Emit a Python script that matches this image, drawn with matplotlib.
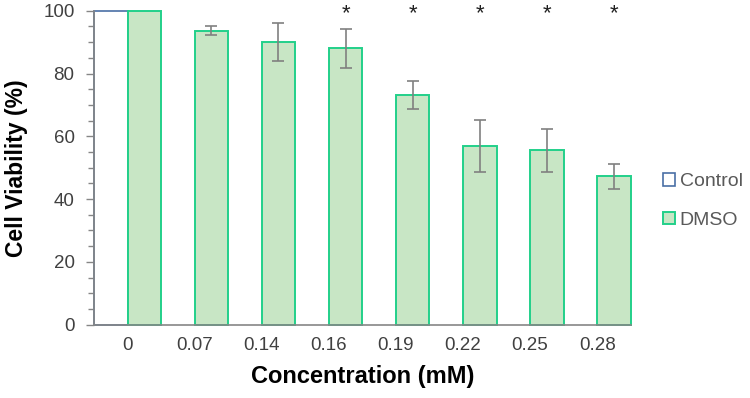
import numpy as np
import matplotlib
matplotlib.use("Agg")
import matplotlib.pyplot as plt
from matplotlib.patches import Patch

plt.rcParams['font.family'] = ['Liberation Sans', 'DejaVu Sans']

conc_labels = ['0', '0.07', '0.14', '0.16', '0.19', '0.22', '0.25', '0.28']
dmso_vals = [100, 93.6, 90.0, 88.0, 73.1, 56.9, 55.5, 47.3]
dmso_err = [0, 1.4, 6.1, 6.2, 4.4, 8.2, 6.9, 4.0]
control_vals = [100]
signif = [False, False, False, True, True, True, True, True]

edge_green = '#22D08A'
fill_green = '#C8E6C5'
blue = '#4A6FA5'
txt_gray = '#404040'
axis_gray = '#868686'

fig = plt.figure(figsize=(7.5, 3.98), dpi=100)
ax = fig.add_axes([0.1253, 0.1842, 0.7157, 0.7889])

x = np.arange(len(conc_labels))
w = 0.5

ax.bar(x[:len(control_vals)], control_vals, width=-w, align='edge',
       facecolor='white', edgecolor=blue, linewidth=1.2, zorder=2, clip_on=False)
ax.bar(x, dmso_vals, width=w, align='edge', facecolor=fill_green,
       edgecolor=edge_green, linewidth=1.4, zorder=2, clip_on=False)
ax.errorbar(x[1:] + w / 2, dmso_vals[1:], yerr=dmso_err[1:], fmt='none',
            ecolor='#808080', elinewidth=1.2, capsize=4, capthick=1.2, zorder=3)

for i, s in enumerate(signif):
    if s:
        ax.text(x[i] + w / 2, 99.0, '*', ha='center', va='center',
                fontsize=16, color='#202020', clip_on=False)

ax.set_xlim(-0.5, len(conc_labels) - 0.5)
ax.set_ylim(0, 100)
ax.set_xticks(x)
ax.set_xticklabels(conc_labels)
ax.set_yticks(np.arange(0, 101, 20))
ax.set_yticks(np.arange(0, 101, 5), minor=True)
ax.tick_params(axis='x', length=0, pad=9, labelsize=13.5, labelcolor=txt_gray)
ax.tick_params(axis='y', which='major', length=6, width=1, color=axis_gray,
               labelsize=13.5, labelcolor=txt_gray, pad=8)
ax.tick_params(axis='y', which='minor', length=4, width=1, color=axis_gray)

for side in ['top', 'right']:
    ax.spines[side].set_visible(False)
for side in ['left', 'bottom']:
    ax.spines[side].set_color(axis_gray)
    ax.spines[side].set_linewidth(1.2)
    ax.spines[side].set_zorder(4)

ax.set_xlabel('Concentration (mM)', fontsize=17, fontweight='bold')
ax.set_ylabel('Cell Viability (%)', fontsize=16.5, fontweight='bold')
ax.xaxis.set_label_coords(0.5, -0.128)
ax.yaxis.set_label_coords(-0.122, 0.5)

handles = [Patch(facecolor='white', edgecolor=blue, linewidth=1.2, label='Control'),
           Patch(facecolor=fill_green, edgecolor=edge_green, linewidth=1.4, label='DMSO')]
leg = fig.legend(handles=handles, loc='center left', bbox_to_anchor=(0.884, 0.495),
                 frameon=False, fontsize=14, handlelength=0.6, handleheight=0.6,
                 handletextpad=0.25, labelspacing=1.1, borderpad=0, borderaxespad=0)
for t in leg.get_texts():
    t.set_color('#595959')

fig.savefig('out.png', dpi=100)
